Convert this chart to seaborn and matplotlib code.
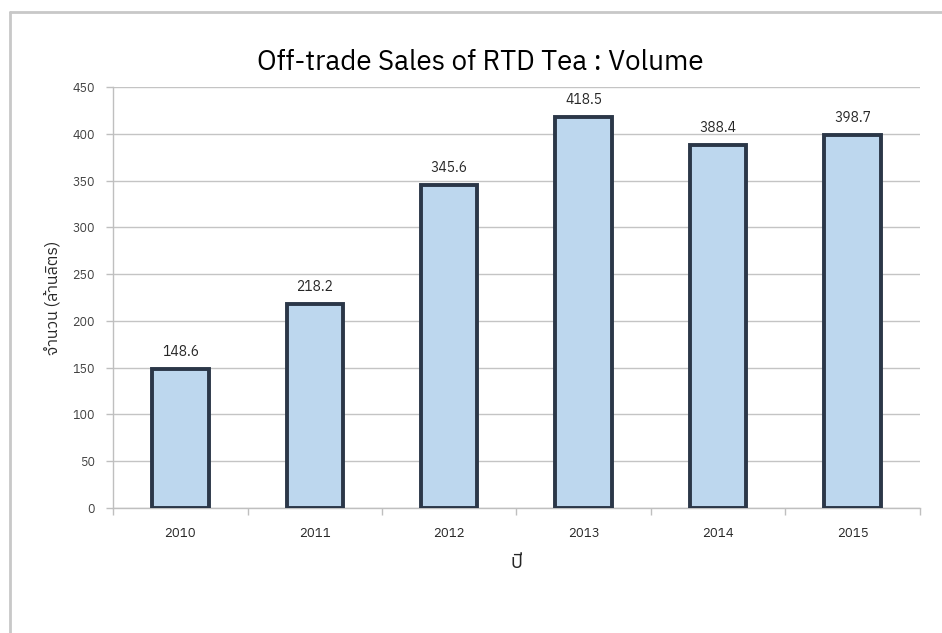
import matplotlib
matplotlib.use("Agg")
import matplotlib.pyplot as plt
import matplotlib.font_manager as fm
from matplotlib.ft2font import FT2Font
from matplotlib.lines import Line2D
import seaborn as sns
import pandas as pd

years = ["2010", "2011", "2012", "2013", "2014", "2015"]
volumes = [148.6, 218.2, 345.6, 418.5, 388.4, 398.7]
title = "Off-trade Sales of RTD Tea : Volume"
x_label = "ปี"
y_label = "จำนวน (ล้านลิตร)"
y_ticks = [0, 50, 100, 150, 200, 250, 300, 350, 400, 450]


def find_thai_font():
    best = None
    for f in fm.fontManager.ttflist:
        try:
            ft = FT2Font(f.fname)
            if ft.get_char_index(0x0E1B) and ft.get_char_index(0x0E08):
                if "thai" in f.name.lower():
                    return f.name
                if best is None:
                    best = f.name
        except Exception:
            continue
    return best


sns.set_theme(style="white")
thai = find_thai_font()
families = ([thai] if thai else []) + ["DejaVu Sans"]
plt.rcParams["font.family"] = families

df = pd.DataFrame({"year": years, "volume": volumes})

fig = plt.figure(figsize=(9.42, 6.33), dpi=100)
ax = fig.add_axes([0.12, 0.1975, 0.8566, 0.665])

sns.barplot(data=df, x="year", y="volume", color="#BDD7EE", edgecolor="#2B3748",
            linewidth=2.8, width=0.42, saturation=1, ax=ax, zorder=3)

ax.set_ylim(0, 450)
ax.set_yticks(y_ticks)
ax.set_xlim(-0.5, len(years) - 0.5)
ax.yaxis.grid(True, color="#C4C4C4", linewidth=1.0, zorder=0)
ax.set_axisbelow(True)

for side in ["top", "right"]:
    ax.spines[side].set_visible(False)
for side in ["left", "bottom"]:
    ax.spines[side].set_color("#BFBFBF")
    ax.spines[side].set_linewidth(1.0)

ax.tick_params(axis="y", which="both", left=True, length=5, width=1, color="#BFBFBF",
               labelsize=9, labelcolor="#404040", pad=8)
ax.tick_params(axis="x", bottom=False, labelsize=9.5, labelcolor="#262626", pad=8)
# category separator ticks on x axis
ax.set_xticks([i - 0.5 for i in range(len(years) + 1)], minor=True)
ax.tick_params(axis="x", which="minor", bottom=True, length=5, width=1, color="#BFBFBF")

for c in ax.containers:
    ax.bar_label(c, labels=[f"{v:.1f}" for v in volumes], padding=7,
                 fontsize=10, color="#262626")

fig.text(480 / 942, 1 - 62 / 633, title, fontsize=20, color="#000000",
         ha="center", va="center")
ax.set_xlabel(x_label, fontsize=14, color="#262626", labelpad=10)
ax.set_ylabel(y_label, fontsize=11.5, color="#262626", labelpad=8)

# outer frame lines (left and top)
fig.add_artist(Line2D([9.5 / 942, 9.5 / 942], [0, 1 - 12 / 633], transform=fig.transFigure,
                      color="#C8C8C8", linewidth=2))
fig.add_artist(Line2D([9.5 / 942, 1], [1 - 12 / 633, 1 - 12 / 633], transform=fig.transFigure,
                      color="#C8C8C8", linewidth=2))

fig.savefig("out.png", dpi=100, facecolor="white")
